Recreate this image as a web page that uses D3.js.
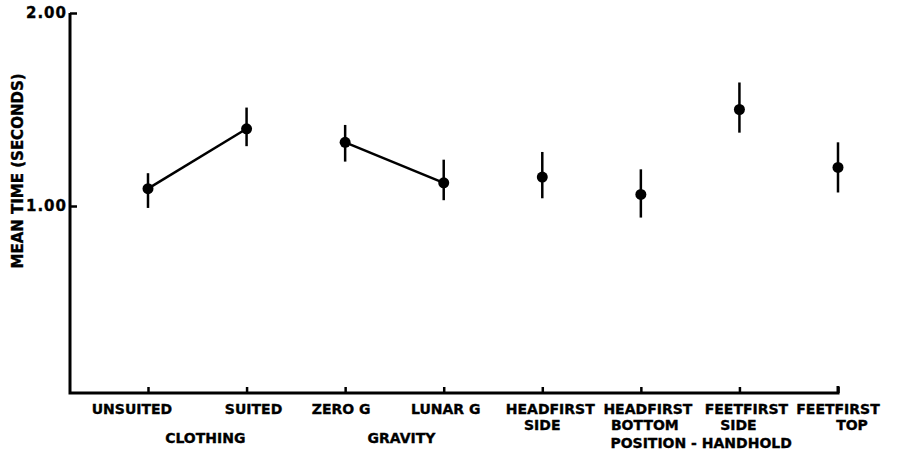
<!DOCTYPE html>
<html>
<head>
<meta charset="utf-8">
<script src="https://cdn.jsdelivr.net/npm/d3@7"></script>
<style>
  html, body { margin: 0; padding: 0; background: #fff; }
  svg text { font-family: "DejaVu Sans", sans-serif; font-weight: bold; fill: #000; stroke: #000; stroke-width: 0.35px; }
</style>
</head>
<body>
<svg id="chart" width="899" height="452"></svg>
<script>
// ---- data ----
const categories = ["UNSUITED", "SUITED", "ZERO G", "LUNAR G", "HEADFIRST SIDE", "HEADFIRST BOTTOM", "FEETFIRST SIDE", "FEETFIRST TOP"];
const tickLines = [["UNSUITED"], ["SUITED"], ["ZERO G"], ["LUNAR G"], ["HEADFIRST", "SIDE"], ["HEADFIRST", "BOTTOM"], ["FEETFIRST", "SIDE"], ["FEETFIRST", "TOP"]];
const means = [1.09, 1.40, 1.33, 1.12, 1.15, 1.06, 1.50, 1.20];
const lows  = [0.99, 1.31, 1.23, 1.03, 1.04, 0.94, 1.38, 1.07];
const highs = [1.17, 1.51, 1.42, 1.24, 1.28, 1.19, 1.64, 1.33];
const connected = [["UNSUITED", "SUITED"], ["ZERO G", "LUNAR G"]];
const groupLabels = ["CLOTHING", "GRAVITY", "POSITION - HANDHOLD"];
const groupSpans = [["UNSUITED", "SUITED"], ["ZERO G", "LUNAR G"], ["HEADFIRST BOTTOM", "FEETFIRST SIDE"]];
const yTicks = [1.00, 2.00];
const yTitle = "MEAN TIME (SECONDS)";

// ---- layout (hand-lettered label offsets, px) ----
const labelNudge = [[-16], [7], [-4], [2], [8, 0], [7, 4], [7, -1], [0, 14]];
const groupNudge = [8, 7, 11];

const svg = d3.select("#chart");
const axisX = 70, axisBottom = 393;
const x = d3.scalePoint().domain(categories).range([148, 838]);
const y = d3.scaleLinear().domain([1, 2]).range([206, 13]);
const rows = categories.map((c, i) => ({ c, m: means[i], lo: lows[i], hi: highs[i] }));

// axes lines
svg.append("path")
  .attr("d", `M${axisX},${y(2)} V${axisBottom} H${x.range()[1]} V${axisBottom - 7}`)
  .attr("fill", "none").attr("stroke", "#000").attr("stroke-width", 3);

// y ticks
const yAxis = d3.axisRight(y).tickValues(yTicks).tickSize(7).tickFormat(d3.format(".2f"));
const yg = svg.append("g").attr("transform", `translate(${axisX},0)`).call(yAxis);
yg.select(".domain").remove();
yg.selectAll(".tick line").attr("stroke", "#000").attr("stroke-width", 2.5);
yg.selectAll(".tick text").attr("x", -3).attr("text-anchor", "end").attr("fill", "#000")
  .style("font-size", "15px").style("letter-spacing", "1px").style("font-family", "DejaVu Sans").style("font-weight", "bold");

// x ticks
const xAxis = d3.axisTop(x).tickSize(6).tickFormat("");
const xg = svg.append("g").attr("transform", `translate(0,${axisBottom})`).call(xAxis);
xg.select(".domain").remove();
xg.selectAll(".tick line").attr("stroke", "#000").attr("stroke-width", 2.5);

// x tick labels (one text per line)
categories.forEach((c, i) => {
  tickLines[i].forEach((ln, j) => {
    svg.append("text").attr("x", x(c) + labelNudge[i][j]).attr("y", 414 + j * 15.5)
      .attr("text-anchor", "middle").style("font-size", "14px").text(ln);
  });
});

// group labels
groupLabels.forEach((g, i) => {
  const [a, b] = groupSpans[i];
  svg.append("text")
    .attr("x", (x(a) + x(b)) / 2 + groupNudge[i])
    .attr("y", i === 2 ? 447.5 : 443)
    .attr("text-anchor", "middle").style("font-size", "14px").text(g);
});

// y title
svg.append("text")
  .attr("transform", `translate(23,171) rotate(-90)`)
  .attr("text-anchor", "middle").style("font-size", "15px").text(yTitle);

// connecting lines
const byCat = new Map(rows.map(r => [r.c, r]));
const line = d3.line().x(d => x(d.c)).y(d => y(d.m));
connected.forEach(pair => {
  svg.append("path").attr("d", line(pair.map(c => byCat.get(c))))
    .attr("fill", "none").attr("stroke", "#000").attr("stroke-width", 2.5);
});

// error bars
svg.selectAll("line.err").data(rows).join("line").attr("class", "err")
  .attr("x1", d => x(d.c)).attr("x2", d => x(d.c))
  .attr("y1", d => y(d.lo)).attr("y2", d => y(d.hi))
  .attr("stroke", "#000").attr("stroke-width", 2.5);

// points
svg.selectAll("circle.pt").data(rows).join("circle").attr("class", "pt")
  .attr("cx", d => x(d.c)).attr("cy", d => y(d.m)).attr("r", 5.5).attr("fill", "#000");
</script>
</body>
</html>
